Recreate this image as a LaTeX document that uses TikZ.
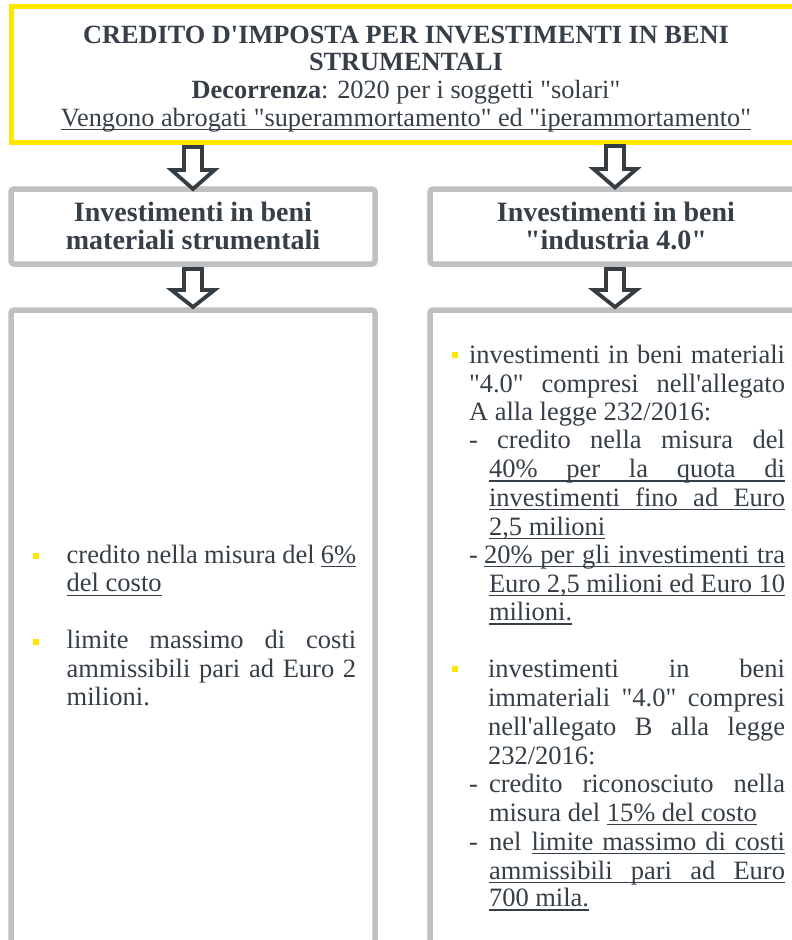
\documentclass[tikz,border=0pt]{standalone}
\usepackage{fontspec}
\setmainfont{Liberation Serif}[Ligatures=TeXOff]
\definecolor{tx}{HTML}{363F47}
\definecolor{ey}{HTML}{FFE600}
\definecolor{gb}{HTML}{C0C0C0}
\definecolor{ar}{HTML}{353C42}
\newsavebox\ulbox
\newcommand\ulx[1]{\sbox\ulbox{#1}\rlap{\rule[-4pt]{\wd\ulbox}{1.2pt}}\usebox\ulbox}
\begin{document}
\begin{tikzpicture}[x=1pt,y=-1pt,
  ln/.style={anchor=base west, inner sep=0pt, outer sep=0pt, text=tx, font=\fontsize{26.5}{28.7}\selectfont},
  ttl/.style={anchor=base, inner sep=0pt, text=tx, font=\fontsize{26.3}{27.5}\selectfont},
  hdr/.style={anchor=base, inner sep=0pt, text=tx, font=\bfseries\fontsize{28}{32}\selectfont},
  ybox/.style={draw=ey, line width=5pt},
  gbox/.style={draw=gb, line width=5.5pt, rounded corners=3pt},
  barrow/.style={draw=ar, fill=white, line width=3.8pt, line join=miter},
  bul/.style={fill=ey, minimum size=6pt, inner sep=0pt}]
\useasboundingbox (0,0) rectangle (792,940);
\clip (0,0) rectangle (792,940);
\fill[white] (0,0) rectangle (792,940);

% boxes
\draw[ybox] (11,6) rectangle (810,142);
\draw[gbox] (11,189) rectangle (375,264);
\draw[gbox] (430,189) rectangle (810,264);
\draw[gbox] (11,310) rectangle (375,970);
\draw[gbox] (430,310) rectangle (810,970);

% block arrows
\foreach \cx/\t/\h/\p/\n in {193/147/170/189/a1, 615/146/169/187.5/a2, 193/269/290/307/a3, 615/269/290/307/a4}{
  \coordinate (\n) at (\cx,\t);
  \draw[barrow] (\cx-9,\t) -- (\cx+9,\t) -- (\cx+9,\h) -- (\cx+21.5,\h) -- (\cx,\p)
     -- (\cx-21.5,\h) -- (\cx-9,\h) -- cycle;
}

% title
\node[ttl, font=\bfseries\fontsize{26.3}{27.5}\selectfont] (t1) at (406,43) {CREDITO D'IMPOSTA PER INVESTIMENTI IN BENI};
\node[ttl, font=\bfseries\fontsize{26.3}{27.5}\selectfont] (t2) at (406,70.5) {STRUMENTALI};
\node[ttl] (t3) at (406,98.5) {\textbf{Decorrenza}: 2020 per i soggetti "solari"};
\node[ttl] (t4) at (406,126) {\ulx{Vengono abrogati "superammortamento" ed "iperammortamento"}};

% headers
\node[hdr] (h1a) at (193,221.5) {Investimenti in beni};
\node[hdr] (h1b) at (193,249) {materiali strumentali};
\node[hdr] (h2a) at (616,221.5) {Investimenti in beni};
\node[hdr] (h2b) at (616,249) {"industria 4.0"};

% left content
\node[bul] (b1) at (35.5,555.5) {};
\node[bul] (b2) at (35.5,641.5) {};
\node[ln] (l1) at (66.7,563) {\makebox[289.5pt][s]{credito nella misura del \ulx{6\%}}};
\node[ln] (l2) at (66.7,591.7) {\ulx{del costo}};
\node[ln] (l3) at (66.7,648) {\makebox[289.5pt][s]{limite massimo di costi}};
\node[ln] (l4) at (66.7,677) {\makebox[289.5pt][s]{ammissibili pari ad Euro 2}};
\node[ln] (l5) at (66.7,705.5) {milioni.};

% right content, bullet 1
\node[bul] (b3) at (455,354.5) {};
\node[ln] (r1) at (469,363.5) {\makebox[316pt][s]{investimenti in beni materiali}};
\node[ln] (r2) at (469,392) {\makebox[316pt][s]{"4.0" compresi nell'allegato}};
\node[ln] (r3) at (469,420) {A alla legge 232/2016:};
\node[ln] (r4) at (469,448) {\makebox[316pt][s]{- credito nella misura del}};
\node[ln] (r5) at (489,477.6) {\ulx{\makebox[296pt][s]{40\% per la quota di}}};
\node[ln] (r6) at (489,506) {\ulx{\makebox[296pt][s]{investimenti fino ad Euro}}};
\node[ln] (r7) at (489,535) {\ulx{2,5 milioni}};
\node[ln] (r8d) at (469,563) {-};
\node[ln] (r8) at (484,563) {\ulx{\makebox[301pt][s]{20\% per gli investimenti tra}}};
\node[ln] (r9) at (489,592) {\ulx{\makebox[296pt][s]{Euro 2,5 milioni ed Euro 10}}};
\node[ln] (r10) at (489,620.5) {\ulx{milioni.}};

% right content, bullet 2
\node[bul] (b4) at (455,668.5) {};
\node[ln] (s1) at (488,677.7) {\makebox[297pt][s]{investimenti in beni}};
\node[ln] (s2) at (488,706) {\makebox[297pt][s]{immateriali "4.0" compresi}};
\node[ln] (s3) at (488,735) {\makebox[297pt][s]{nell'allegato B alla legge}};
\node[ln] (s4) at (488,764) {232/2016:};
\node[ln] (s5d) at (469,792.5) {-};
\node[ln] (s5) at (489,792.5) {\makebox[296pt][s]{credito riconosciuto nella}};
\node[ln] (s6) at (489,821) {misura del \ulx{15\% del costo}};
\node[ln] (s7d) at (469,850) {-};
\node[ln] (s7) at (489,850) {nel};
\node[ln] (s7u) at (531.5,850) {\ulx{\makebox[253.5pt][s]{limite massimo di costi}}};
\node[ln] (s8) at (489,879) {\ulx{\makebox[296pt][s]{ammissibili pari ad Euro}}};
\node[ln] (s9) at (489,906.5) {\ulx{700 mila.}};
\end{tikzpicture}
\end{document}
